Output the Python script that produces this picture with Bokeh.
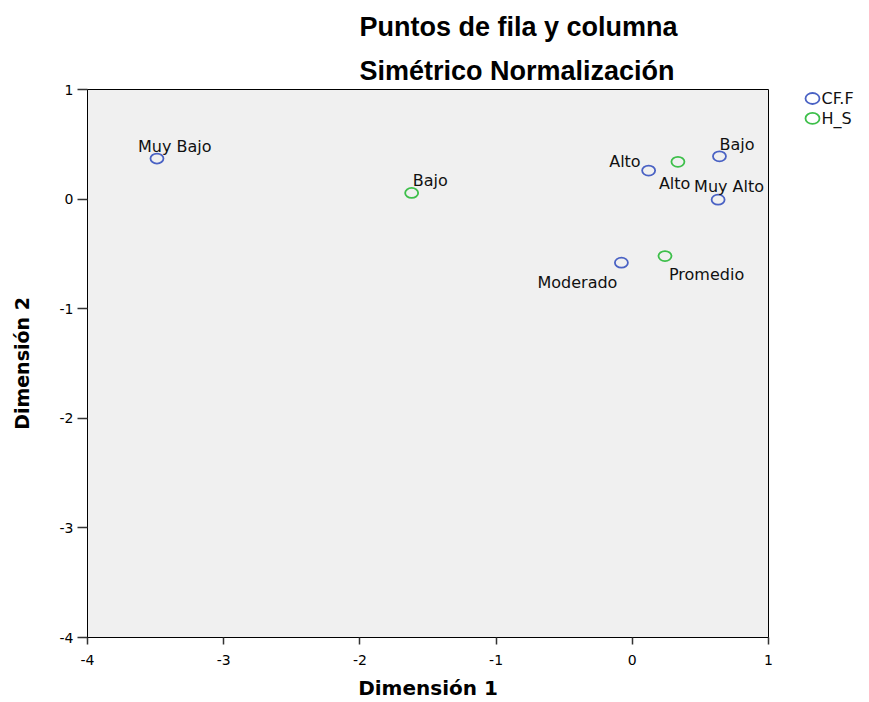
from bokeh.plotting import figure
from bokeh.layouts import row
from bokeh.models import ColumnDataSource, Range1d, FixedTicker, Title
from bokeh.core.properties import value
from bokeh.embed import file_html
from bokeh.resources import INLINE

# ---- data ----
cf_labels = ["Muy Bajo", "Alto", "Bajo", "Muy Alto", "Moderado"]
cf_dim1 = [-3.49, 0.12, 0.64, 0.63, -0.08]
cf_dim2 = [0.37, 0.26, 0.39, -0.005, -0.58]

hs_labels = ["Bajo", "Alto", "Promedio"]
hs_dim1 = [-1.62, 0.335, 0.24]
hs_dim2 = [0.056, 0.34, -0.52]

series_names = ["CF.F", "H_S"]

ticks = [-4, -3, -2, -1, 0, 1]
tick_labels = ["-4", "-3", "-2", "-1", "0", "1"]

# ---- label placement (screen-pixel offsets, styling only) ----
cf_dx = [-19, -8, 0, -24, -4]
cf_dy = [-12, -9, -12, -13, 20]
cf_align = ["left", "right", "left", "left", "right"]
hs_dx = [1, -19, 4]
hs_dy = [-12, 22, 18]
hs_align = ["left", "left", "left"]

BLUE = "#4a62c4"
GREEN = "#3dbf4a"
FONT = "DejaVu Sans"
H = 702
B_TOP, B_BOTTOM = 88, 65

p = figure(width=800, height=H, output_backend="svg", toolbar_location=None,
           x_range=Range1d(-4, 1), y_range=Range1d(-4, 1),
           min_border_left=87, min_border_right=32, min_border_top=B_TOP, min_border_bottom=B_BOTTOM)

p.background_fill_color = "#f0f0f0"
p.border_fill_color = "white"
p.outline_line_color = "black"
p.outline_line_width = 1
p.xgrid.visible = False
p.ygrid.visible = False

# titles (p.title is outermost; added Title sits next to the frame)
p.title.text = "Puntos de fila y columna"
p.title.text_font = "Liberation Sans"
p.title.text_font_size = "27px"
p.title.text_font_style = "bold"
p.title.text_color = "black"
p.title.align = "left"
p.title.offset = 272
p.title.standoff = 18
t2 = Title(text="Simétrico Normalización", text_font="Liberation Sans", text_font_size="27px",
           text_font_style="bold", text_color="black", align="left", offset=272, standoff=7)
p.add_layout(t2, "above")

overrides = {t: s for t, s in zip(ticks, tick_labels)}
for ax in (p.xaxis[0], p.yaxis[0]):
    ax.ticker = FixedTicker(ticks=ticks)
    ax.major_label_overrides = overrides
    ax.minor_tick_line_color = None
    ax.major_tick_in = 0
    ax.axis_line_color = "black"
    ax.major_tick_line_color = "#333333"
    ax.major_tick_line_width = 1.5
    ax.major_label_text_font = FONT
    ax.major_label_text_font_size = "14px"
    ax.major_label_text_color = "black"
    ax.axis_label_text_font = FONT
    ax.axis_label_text_font_style = "bold"
    ax.axis_label_text_color = "black"

p.xaxis.axis_label = "Dimensión 1"
p.xaxis.major_tick_out = 7
p.xaxis.major_label_standoff = 10
p.xaxis.axis_label_standoff = 8
p.xaxis.axis_label_text_font_size = "20px"

p.yaxis.axis_label = "Dimensión 2"
p.yaxis.major_tick_out = 10
p.yaxis.major_label_standoff = 4
p.yaxis.axis_label_standoff = 24
p.yaxis.axis_label_text_font_size = "19px"

cf_src = ColumnDataSource(dict(x=cf_dim1, y=cf_dim2, label=cf_labels,
                               dx=cf_dx, dy=cf_dy, align=cf_align))
hs_src = ColumnDataSource(dict(x=hs_dim1, y=hs_dim2, label=hs_labels,
                               dx=hs_dx, dy=hs_dy, align=hs_align))

mk = dict(width=13, height=10, width_units="screen", height_units="screen",
          fill_color=None, line_width=1.8)
p.ellipse(x="x", y="y", source=cf_src, line_color=BLUE, **mk)
p.ellipse(x="x", y="y", source=hs_src, line_color=GREEN, **mk)

for src in (cf_src, hs_src):
    p.text(x="x", y="y", text="label", x_offset="dx", y_offset="dy", text_align="align",
           text_baseline="alphabetic", source=src, text_font=value(FONT),
           text_font_size="16px", text_color="#111111")

# ---- legend panel: a small pixel-coordinate figure to the right of the chart ----
# (its frame is aligned with the chart frame by the row layout)
LW = 65
FH = H - B_TOP - B_BOTTOM
pl = figure(width=LW, height=H, output_backend="svg", toolbar_location=None,
            x_range=Range1d(0, LW), y_range=Range1d(FH, 0), x_axis_type=None, y_axis_type=None,
            min_border_left=0, min_border_right=0, min_border_top=B_TOP, min_border_bottom=B_BOTTOM)
pl.outline_line_color = None
pl.background_fill_color = "white"
pl.border_fill_color = "white"
pl.xgrid.visible = False
pl.ygrid.visible = False

# legend swatch layout (pixels from the frame's top-left)
sw_x, sw_y0, sw_step, txt_gap = 12, 9, 20, 9
leg_src = ColumnDataSource(dict(
    x=[sw_x] * len(series_names),
    y=[sw_y0 + i * sw_step for i in range(len(series_names))],
    label=series_names,
    color=[BLUE, GREEN]))
pl.ellipse(x="x", y="y", source=leg_src, line_color="color", width=14, height=11,
           width_units="screen", height_units="screen", fill_color=None, line_width=1.8)
pl.text(x="x", y="y", text="label", x_offset=txt_gap, source=leg_src, text_baseline="middle",
        text_align="left", text_font=value(FONT), text_font_size="16px", text_color="#111111")

layout = row(p, pl, spacing=0)
open("out.html", "w").write(file_html(layout, INLINE))
